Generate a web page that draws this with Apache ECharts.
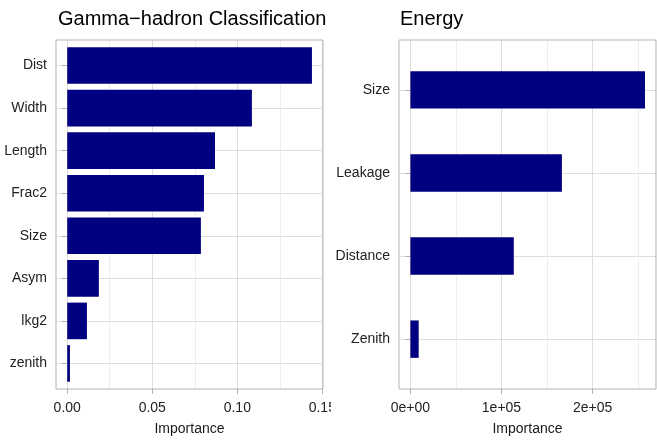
<!DOCTYPE html>
<html>
<head>
<meta charset="utf-8">
<script src="https://cdn.jsdelivr.net/npm/echarts@6/dist/echarts.min.js"></script>
<style>
  html, body { margin: 0; padding: 0; background: #fff; }
  #chart { width: 657px; height: 441px; }
</style>
</head>
<body>
<div id="chart"></div>
<script>
// Variable importance for the two models
const gammaCategories = ['Dist', 'Width', 'Length', 'Frac2', 'Size', 'Asym', 'lkg2', 'zenith'];
const gammaValues = [0.1439, 0.1086, 0.0869, 0.0804, 0.0786, 0.0186, 0.0116, 0.0016];
const gammaTicks = [0, 0.05, 0.10, 0.15];
const gammaMinorTicks = [0.025, 0.075, 0.125];

const energyCategories = ['Size', 'Leakage', 'Distance', 'Zenith'];
const energyValues = [257500, 166300, 113500, 9100];
const energyTicks = [0, 100000, 200000];
const energyMinorTicks = [50000, 150000, 250000];

const FONT = "'Liberation Sans', Arial, sans-serif";
const BORDER = '#b3b3b3';
const GRID_MAJOR = '#dedede';
const GRID_MINOR = '#ededed';
const BAR = '#000080';
const TEXT = '#1a1a1a';
const LABEL = '#222222';

function sciLabel(v) {
  if (v === 0) return '0e+00';
  const e = Math.floor(Math.log10(Math.abs(v)));
  const m = Math.round(v / Math.pow(10, e));
  return m + 'e+' + String(e).padStart(2, '0');
}

function indexList(cats) { return cats.map((_, i) => i + 1); }

// horizontal bars drawn through the axis scales: y = category index, x = value
function barSeries(xIdx, yIdx, values, thickness) {
  return {
    type: 'custom',
    xAxisIndex: xIdx,
    yAxisIndex: yIdx,
    data: values.map((v, i) => [v, i + 1]),
    encode: { x: 0, y: 1 },
    clip: true,
    silent: true,
    renderItem: function (params, api) {
      const v = api.value(0), c = api.value(1);
      const p0 = api.coord([0, c - thickness / 2]);
      const p1 = api.coord([v, c + thickness / 2]);
      return {
        type: 'rect',
        shape: {
          x: Math.min(p0[0], p1[0]), y: Math.min(p0[1], p1[1]),
          width: Math.abs(p1[0] - p0[0]), height: Math.abs(p1[1] - p0[1])
        },
        style: { fill: BAR }
      };
    }
  };
}

function mainXAxis(gridIdx, min, max, ticks, fmt) {
  return {
    type: 'value', gridIndex: gridIdx, min: min, max: max,
    name: 'Importance', nameLocation: 'middle', nameGap: 33,
    nameTextStyle: { fontFamily: FONT, fontSize: 14, color: TEXT },
    axisLine: { show: false },
    axisTick: { show: true, length: 5, customValues: ticks, lineStyle: { color: BORDER, width: 1 } },
    axisLabel: { customValues: ticks, formatter: fmt, margin: 12, fontFamily: FONT, fontSize: 14, color: LABEL },
    splitLine: { show: true, lineStyle: { color: GRID_MAJOR, width: 1 } }
  };
}

function minorXAxis(gridIdx, min, max, ticks) {
  return {
    type: 'value', gridIndex: gridIdx, min: min, max: max, position: 'bottom',
    axisLine: { show: false },
    axisTick: { show: false, customValues: ticks },
    axisLabel: { show: false },
    splitLine: { show: true, lineStyle: { color: GRID_MINOR, width: 1 } }
  };
}

function catYAxis(gridIdx, cats) {
  const idx = indexList(cats);
  return {
    type: 'value', gridIndex: gridIdx, min: 0.4, max: cats.length + 0.6, inverse: true,
    axisLine: { show: false },
    axisTick: { show: true, length: 5, customValues: idx, lineStyle: { color: BORDER, width: 1 } },
    axisLabel: {
      customValues: idx, margin: 9, fontFamily: FONT, fontSize: 14, color: LABEL,
      formatter: v => cats[Math.round(v) - 1] || ''
    },
    splitLine: { show: true, lineStyle: { color: GRID_MAJOR, width: 1 } }
  };
}

const chart = echarts.init(document.getElementById('chart'), null, { renderer: 'canvas' });

chart.setOption({
  animation: false,
  backgroundColor: '#fff',
  title: [
    { text: 'Gamma\u2212hadron Classification', left: 53, top: 4,
      textStyle: { fontFamily: FONT, fontSize: 20, fontWeight: 'normal', color: '#000' } },
    { text: 'Energy', left: 395, top: 4,
      textStyle: { fontFamily: FONT, fontSize: 20, fontWeight: 'normal', color: '#000' } }
  ],
  grid: [
    { left: 56, right: 334, top: 40, bottom: 50, show: true, borderColor: BORDER, borderWidth: 1, backgroundColor: 'transparent', z: 5 },
    { left: 399, right: 1, top: 40, bottom: 50, show: true, borderColor: BORDER, borderWidth: 1, backgroundColor: 'transparent', z: 5 }
  ],
  xAxis: [
    mainXAxis(0, -0.0066, 0.1504, gammaTicks, v => v.toFixed(2)),
    minorXAxis(0, -0.0066, 0.1504, gammaMinorTicks),
    mainXAxis(1, -12500, 269600, energyTicks, sciLabel),
    minorXAxis(1, -12500, 269600, energyMinorTicks)
  ],
  yAxis: [
    catYAxis(0, gammaCategories),
    catYAxis(1, energyCategories)
  ],
  series: [
    barSeries(0, 0, gammaValues, 0.86),
    barSeries(2, 1, energyValues, 0.45)
  ],
  graphic: [
    // the left panel's viewport ends here; trim the overhanging tick label
    { type: 'rect', left: 331, top: 396, shape: { width: 8, height: 24 }, style: { fill: '#fff' }, z: 100 }
  ]
});
</script>
</body>
</html>
